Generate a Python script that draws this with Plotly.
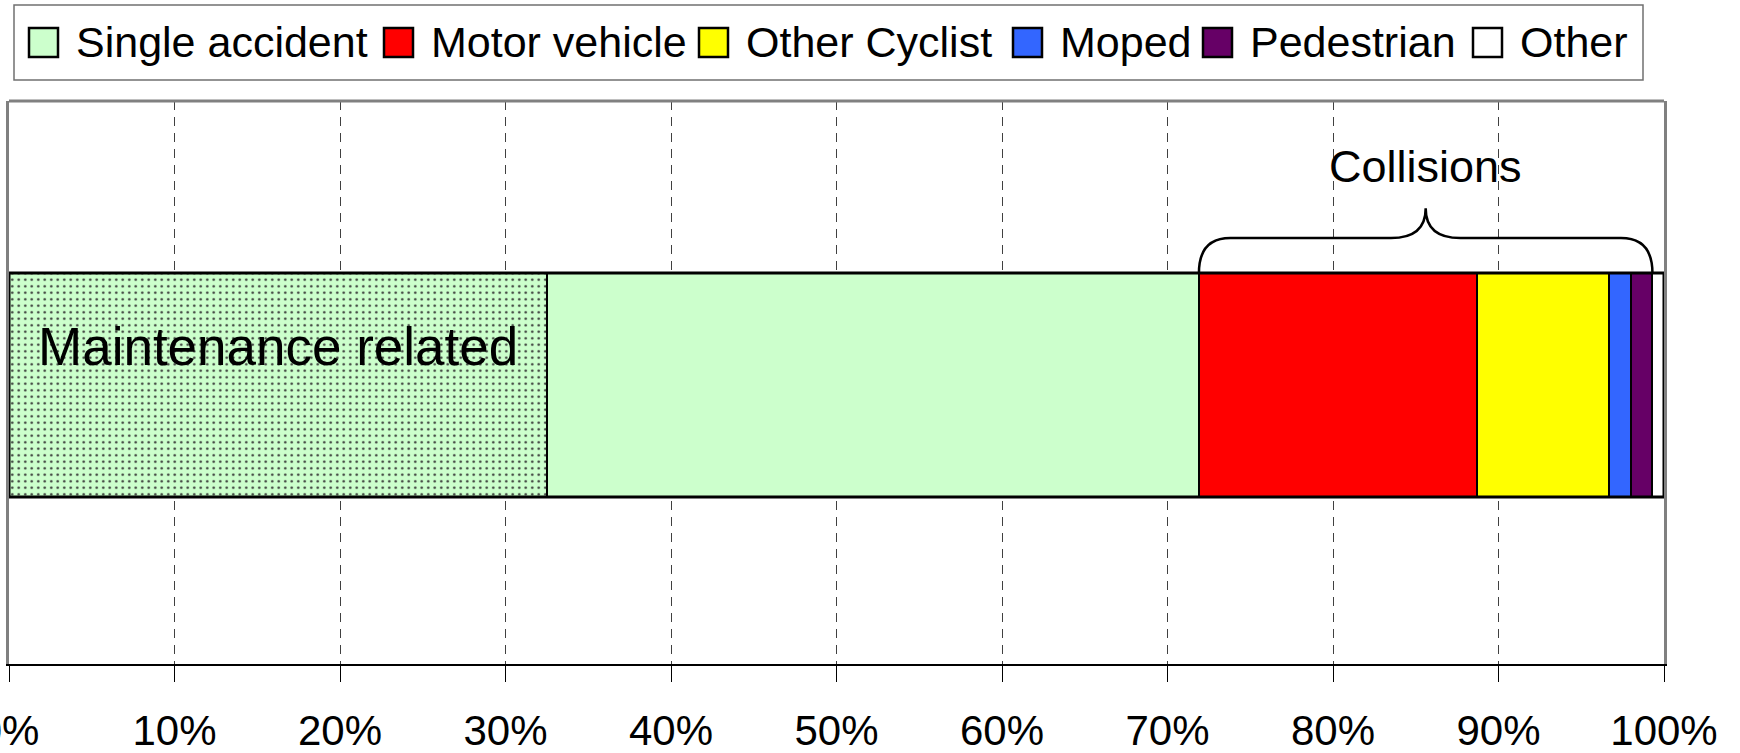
import plotly.graph_objects as go

# ---- data ----
categories = ["Single accident", "Motor vehicle", "Other Cyclist", "Moped", "Pedestrian", "Other"]
shares = [71.9, 16.8, 8.0, 1.3, 1.3, 0.7]          # percent of all crashes
maintenance_share = 32.5                           # part of single accidents that is maintenance related
colors = ["#CCFFCC", "#FF0000", "#FFFF00", "#3366FF", "#660066", "#FFFFFF"]
tick_values = [0, 10, 20, 30, 40, 50, 60, 70, 80, 90, 100]
tick_labels = ["0%", "10%", "20%", "30%", "40%", "50%", "60%", "70%", "80%", "90%", "100%"]
maintenance_label = "Maintenance related"
collisions_label = "Collisions"

# ---- layout constants (pixels of the 1740x753 canvas) ----
W, H = 1740, 753
PLOT_L, PLOT_R, PLOT_T, PLOT_B = 9, 1664, 101, 664
legend_text_x = [74, 429, 744, 1058, 1248, 1518]
FONT = "Arial, Liberation Sans, sans-serif"

BAR_W = 0.398
Y_RANGE = [-0.4955, 0.5045]

fig = go.Figure()

# single accident split: maintenance related (dotted) + rest
fig.add_trace(go.Bar(
    y=[0], x=[maintenance_share], orientation="h", width=BAR_W,
    marker=dict(color=colors[0], line=dict(color="black", width=2),
                pattern=dict(shape=".", fgcolor="#333333", bgcolor=colors[0],
                             size=6.5, solidity=0.12, fillmode="replace")),
    showlegend=False, hoverinfo="skip"))
fig.add_trace(go.Bar(
    y=[0], x=[shares[0] - maintenance_share], orientation="h", width=BAR_W,
    marker=dict(color=colors[0], line=dict(color="black", width=2)),
    showlegend=False, hoverinfo="skip"))
for name, val, col in zip(categories[1:], shares[1:], colors[1:]):
    fig.add_trace(go.Bar(
        y=[0], x=[val], orientation="h", width=BAR_W, name=name,
        marker=dict(color=col, line=dict(color="black", width=2)),
        showlegend=False, hoverinfo="skip"))

# ---- brace over collisions ----
a = shares[0]
b = sum(shares[:-1])
m = (a + b) / 2
yb = BAR_W / 2
yh = yb + 0.062
yp = yb + 0.115
r, c = 1.9, 2.1
brace = (f"M {a},{yb} Q {a},{yh} {a + r},{yh} L {m - c},{yh} Q {m},{yh} {m},{yp} "
         f"Q {m},{yh} {m + c},{yh} L {b - r},{yh} Q {b},{yh} {b},{yb}")

shapes = [
    dict(type="path", path=brace, xref="x", yref="y",
         line=dict(color="black", width=2.5), layer="above"),
    # outer outline of the whole bar
    dict(type="rect", xref="x", yref="y", x0=0, x1=sum(shares), y0=-BAR_W / 2, y1=BAR_W / 2,
         line=dict(color="black", width=3), layer="above"),
    # top border of plot area
    dict(type="line", xref="paper", yref="paper",
         x0=PLOT_L / W, x1=PLOT_R / W, y0=1 - PLOT_T / H, y1=1 - PLOT_T / H,
         line=dict(color="#808080", width=3)),
    # legend box
    dict(type="rect", xref="paper", yref="paper",
         x0=14 / W, x1=1643 / W, y0=1 - 80 / H, y1=1 - 5 / H,
         line=dict(color="#707070", width=1.5), fillcolor="white"),
]

annotations = [
    dict(x=maintenance_share / 2, y=0.069, xref="x", yref="y", text=maintenance_label,
         showarrow=False, font=dict(family=FONT, size=53, color="black"),
         xanchor="center", yanchor="middle"),
    dict(x=m, y=0.389, xref="x", yref="y", text=collisions_label,
         showarrow=False, font=dict(family=FONT, size=45, color="black"),
         xanchor="center", yanchor="middle"),
]

# ---- manual legend ----
for name, col, tx in zip(categories, colors, legend_text_x):
    shapes.append(dict(type="rect", xref="paper", yref="paper",
                       x0=(tx - 45) / W, x1=(tx - 16) / W,
                       y0=1 - 57 / H, y1=1 - 28 / H,
                       line=dict(color="black", width=2.5), fillcolor=col))
    annotations.append(dict(x=tx / W, y=1 - 42 / H, xref="paper", yref="paper",
                            text=name, showarrow=False,
                            font=dict(family=FONT, size=43, color="black"),
                            xanchor="left", yanchor="middle"))

fig.update_layout(
    width=W, height=H,
    margin=dict(l=0, r=0, t=0, b=0, autoexpand=False),
    barmode="stack",
    paper_bgcolor="white", plot_bgcolor="white",
    shapes=shapes, annotations=annotations,
    showlegend=False,
    xaxis=dict(domain=[PLOT_L / W, PLOT_R / W], range=[0, 100], automargin=False,
               tickvals=tick_values, ticktext=tick_labels,
               ticks="outside", ticklen=16, tickcolor="black", tickwidth=1,
               tickfont=dict(family=FONT, size=42, color="black"),
               ticklabeloverflow="allow", ticklabelstandoff=13,
               showgrid=True, gridcolor="#404040", gridwidth=1, griddash="9px,7px",
               zeroline=False, showline=True, linecolor="black", linewidth=2,
               fixedrange=True),
    yaxis=dict(domain=[1 - PLOT_B / H, 1 - PLOT_T / H], range=Y_RANGE, automargin=False,
               showticklabels=False, ticks="", showgrid=False, zeroline=False,
               showline=True, linecolor="#808080", linewidth=3, mirror=True,
               fixedrange=True),
)

fig.write_html("out.html", config={"displayModeBar": False},
               post_script="document.body.style.margin='0';document.body.style.overflow='hidden';")
